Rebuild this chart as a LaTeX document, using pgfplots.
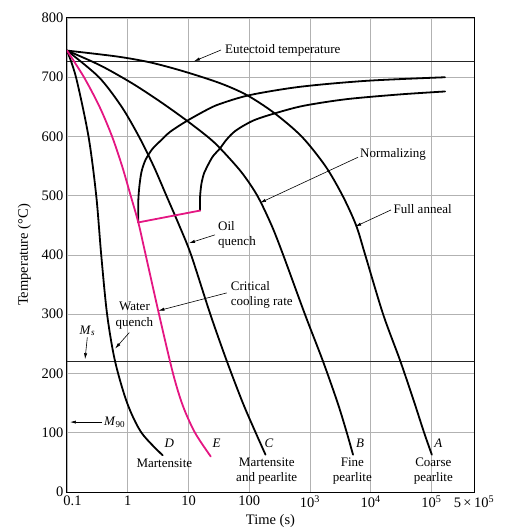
\documentclass[border=0pt]{standalone}
\usepackage{fontspec}
\setmainfont{Liberation Serif}
\usepackage{pgfplots}
\pgfplotsset{compat=1.18}
\usetikzlibrary{arrows.meta}
\definecolor{mag}{RGB}{228,22,130}
\definecolor{gridc}{RGB}{178,178,178}
\newcommand{\af}{\fontsize{13}{15.6}\selectfont}
\tikzset{annot/.style={draw=black, line width=0.6pt, -{Latex[length=6pt,width=3.2pt]}}}
\begin{document}
\begin{tikzpicture}
\begin{axis}[
  width=407pt, height=474pt, scale only axis,
  xmode=log, xmin=0.1, xmax=5e5, ymin=0, ymax=800,
  xtick={0.1,1,10,100,1000,10000,100000,500000},
  xticklabels={\hspace*{11pt}0.1,1,10,100,10\textsuperscript{3},10\textsuperscript{4},10\textsuperscript{5},5\,×\,10\textsuperscript{5}},
  ytick={0,100,200,300,400,500,600,700,800},
  yticklabels={0,100,200,300,400,500,600,700,800},
  major tick length=0pt,
  minor tick num=0,
  xmajorgrids, ymajorgrids,
  major grid style={gridc, line width=0.7pt},
  axis line style={black, line width=1pt},
  tick label style={font=\fontsize{14.5}{17}\selectfont},
  label style={font=\fontsize{14.5}{17}\selectfont},
  xlabel={Time (s)},
  ylabel={Temperature (°C)},
  ylabel shift=4pt,
  every axis plot/.append style={line cap=round, line join=round},
]
% horizontal reference lines
\addplot[black!85, line width=0.9pt] coordinates {(0.1,727) (500000,727)};
\addplot[black!85, line width=0.9pt] coordinates {(0.1,220) (500000,220)};

% A - full anneal
\addplot[black, line width=1.8pt, smooth] coordinates {
(0.1,745) (0.665,735) (2.35,725) (8.30,710) (33.0,690) (90.8,670) (255,640) (728,600)
(1792,550) (3440,500) (5740,450) (8105,400) (15960,300) (30620,221) (52480,150) (75530,100) (101100,63)};
% B - normalizing
\addplot[black, line width=1.8pt, smooth] coordinates {
(0.1,745) (0.353,720) (1.170,690) (3.29,660) (8.50,630) (20.4,600) (33.2,580) (74.0,540)
(135.8,500) (233,450) (362,400) (824,300) (1630,221) (2857,150) (4034,100) (5100,63)};
% C - oil quench
\addplot[black, line width=1.8pt, smooth] coordinates {
(0.1,745) (0.336,700) (0.795,650) (1.526,600) (2.665,550) (4.33,500) (7.03,450) (11.04,400)
(22.85,300) (42.7,221) (78.6,150) (127.7,100) (185,63)};
% D - water quench
\addplot[black, line width=1.8pt, smooth] coordinates {
(0.1,745) (0.1407,700) (0.226,600) (0.303,500) (0.366,400) (0.457,300) (0.617,221)
(0.979,150) (1.684,100) (3.75,62)};
% pearlite start
\addplot[black, line width=1.8pt, smooth] coordinates {
(1.49,455) (1.49,490) (1.55,515) (1.68,540) (1.95,560) (2.5,578) (3.4,592) (5,608)
(9.3,626) (20,645) (33,655) (103,670) (700,684) (8600,694) (167000,700)};
% pearlite finish
\addplot[black, line width=1.8pt, smooth] coordinates {
(15.5,475) (15.5,498) (16.3,520) (18,538) (20,548) (25,566) (33,580) (42.5,595)
(60,610) (117,627) (283,640) (800,652) (4000,663) (30000,671) (167000,676)};
% E - critical cooling rate
\addplot[mag, line width=1.8pt, smooth] coordinates {
(0.1,745) (0.1905,700) (0.344,650) (0.552,600) (0.807,550) (1.118,500) (1.492,455)
(1.887,409) (3.27,300) (5.56,200) (8.11,145) (12.8,100) (23.2,60)};
\addplot[mag, line width=1.8pt] coordinates {(1.492,455) (15.5,475)};

% annotations
\node[anchor=west, font=\af, inner sep=0pt] at (axis cs:39.9,746) {Eutectoid temperature};
\draw[annot] (axis cs:34.3,746) -- (axis cs:12.3,727);
\node[anchor=west, font=\af, inner sep=0pt] at (axis cs:6650,569) {Normalizing};
\draw[annot] (axis cs:6170,565) -- (axis cs:150,488);
\node[anchor=west, font=\af, inner sep=0pt] at (axis cs:23500,477) {Full anneal};
\draw[annot] (axis cs:21500,476) -- (axis cs:5550,448);
\node[anchor=west, align=left, font=\af, inner sep=0pt] at (axis cs:30.6,434) {Oil\\quench};
\draw[annot] (axis cs:27.3,434) -- (axis cs:10.2,420);
\node[anchor=west, align=left, font=\af, inner sep=0pt] at (axis cs:49.5,333) {Critical\\cooling rate};
\draw[annot] (axis cs:42.5,336) -- (axis cs:3.2,306);
\node[align=center, font=\af, inner sep=0pt] at (axis cs:1.29,298) {Water\\quench};
\draw[annot] (axis cs:1.06,269) -- (axis cs:0.62,242);
\node[font=\af, inner sep=0pt] at (axis cs:0.216,272) {\textit{M}\textsubscript{\textit{s}}};
\draw[annot] (axis cs:0.216,261) -- (axis cs:0.198,224);
\node[anchor=west, font=\af, inner sep=0pt] at (axis cs:0.407,118) {\textit{M}\textsubscript{90}};
\draw[annot] (axis cs:0.377,118) -- (axis cs:0.112,118);

\node[font=\af] at (axis cs:4.83,82) {\textit{D}};
\node[font=\af] at (axis cs:29.1,82) {\textit{E}};
\node[font=\af] at (axis cs:211,82) {\textit{C}};
\node[font=\af] at (axis cs:6650,82) {\textit{B}};
\node[font=\af] at (axis cs:129000,82) {\textit{A}};
\node[font=\af, inner sep=0pt] at (axis cs:4.0,48) {Martensite};
\node[font=\af, align=center, inner sep=0pt] at (axis cs:194,35) {Martensite\\and pearlite};
\node[font=\af, align=center, inner sep=0pt] at (axis cs:4970,35) {Fine\\pearlite};
\node[font=\af, align=center, inner sep=0pt] at (axis cs:107000,35) {Coarse\\pearlite};
\end{axis}
\path (current axis.south west) ++(-67pt,-40pt) rectangle ++(509pt,532pt);
\end{tikzpicture}
\end{document}
